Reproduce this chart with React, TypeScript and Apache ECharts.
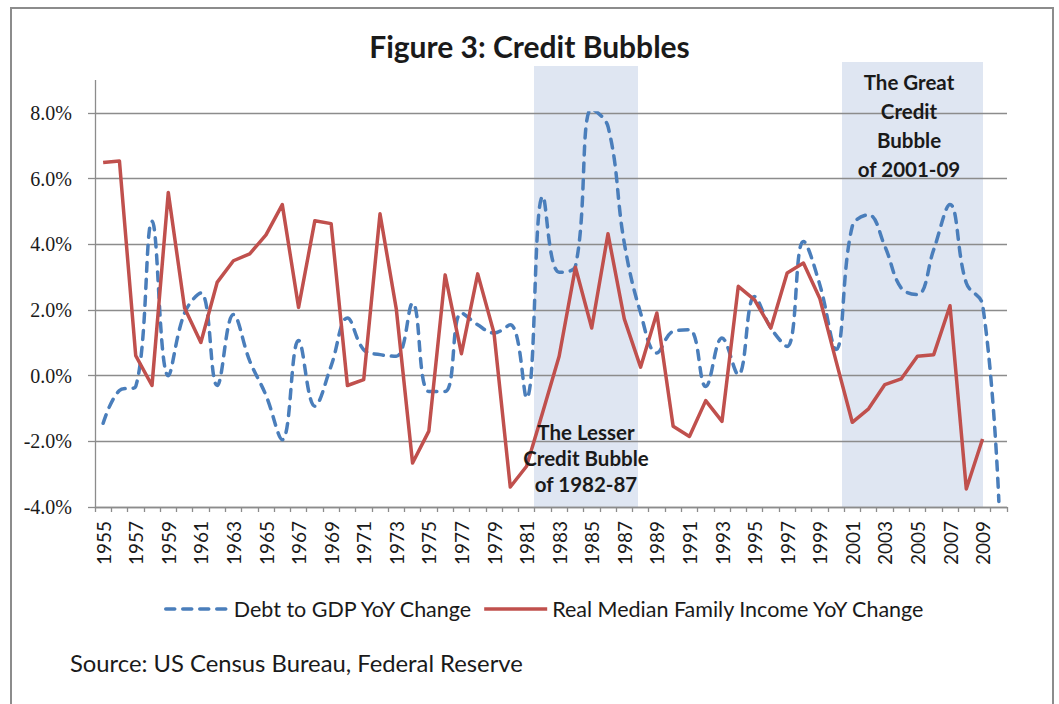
import React, { useEffect, useRef } from "react";
import * as echarts from "echarts";

const years = [
  "1955", "1956", "1957", "1958", "1959", "1960", "1961", "1962", "1963", "1964",
  "1965", "1966", "1967", "1968", "1969", "1970", "1971", "1972", "1973", "1974",
  "1975", "1976", "1977", "1978", "1979", "1980", "1981", "1982", "1983", "1984",
  "1985", "1986", "1987", "1988", "1989", "1990", "1991", "1992", "1993", "1994",
  "1995", "1996", "1997", "1998", "1999", "2000", "2001", "2002", "2003", "2004",
  "2005", "2006", "2007", "2008", "2009", "2010",
];

// Debt to GDP YoY change (%)
const debtToGdp = [
  -1.45, -0.45, -0.33, 4.7, 0.0, 1.91, 2.52, -0.3, 1.86, 0.45,
  -0.6, -1.95, 1.07, -0.93, 0.3, 1.76, 0.79, 0.64, 0.59, 2.21,
  -0.48, -0.48, 1.91, 1.55, 1.3, 1.55, -0.68, 5.46, 3.15, 3.33,
  8.12, 7.59, 4.04, 1.91, 0.69, 1.35, 1.4, -0.33, 1.15, 0.03,
  2.41, 1.45, 0.89, 4.09, 2.78, 0.8, 4.55, 4.9, 3.94, 2.67,
  2.47, 3.84, 5.21, 2.82, 2.16, -3.83,
];

// Real median family income YoY change (%)
const realIncome = [
  6.49, 6.54, 0.61, -0.3, 5.58, 2.06, 1.01, 2.84, 3.5, 3.71,
  4.29, 5.21, 2.08, 4.72, 4.63, -0.3, -0.12, 4.93, 2.03, -2.66,
  -1.69, 3.07, 0.67, 3.1, 1.3, -3.39, -2.76, -1.1, 0.59, 3.3,
  1.45, 4.32, 1.73, 0.26, 1.91, -1.54, -1.85, -0.76, -1.39, 2.72,
  2.31, 1.45, 3.13, 3.43, 2.36, 0.45, -1.42, -1.01, -0.27, -0.1,
  0.59, 0.64, 2.13, -3.45, -1.93, null,
];

const seriesNames = ["Debt to GDP YoY Change", "Real Median Family Income YoY Change"];
const yMin = -4;
const yMax = 8;
const yStep = 2;

const TXT = "#1a1a1a";
const GRID = "#8c8c8c";

export default function App() {
  const ref = useRef<HTMLDivElement>(null);

  useEffect(() => {
    document.body.style.margin = "0";
    const chart = echarts.init(ref.current!, undefined, { renderer: "svg" });
    chart.setOption({
      animation: false,
      backgroundColor: "#ffffff",
      title: {
        text: "Figure 3: Credit Bubbles",
        left: "center",
        top: 26,
        textStyle: { fontFamily: "Lato", fontSize: 30, fontWeight: "bold", color: TXT },
      },
      grid: { left: 95, right: 52, top: 113, bottom: 197, containLabel: false },
      legend: {
        left: 159,
        top: 593,
        itemWidth: 63,
        itemHeight: 14,
        itemGap: 9,
        data: seriesNames,
        itemStyle: { opacity: 0 },
        lineStyle: { width: 3.5 },
        textStyle: { fontFamily: "Lato", fontSize: 21.5, color: TXT },
      },
      xAxis: {
        type: "category",
        data: years,
        boundaryGap: true,
        axisLine: { onZero: false, lineStyle: { color: GRID, width: 1.3 } },
        axisTick: { show: true, interval: 0, length: 5, lineStyle: { color: GRID, width: 1.3 } },
        axisLabel: {
          interval: 1,
          rotate: 90,
          margin: 14,
          fontFamily: "Lato",
          fontSize: 19,
          color: TXT,
        },
        splitLine: { show: false },
      },
      yAxis: {
        type: "value",
        min: yMin,
        max: yMax,
        interval: yStep,
        axisLine: { show: true, lineStyle: { color: GRID, width: 1.3 } },
        axisTick: { show: true, length: 7, lineStyle: { color: GRID, width: 1.3 } },
        axisLabel: {
          formatter: (v: number) => v.toFixed(1) + "%",
          fontFamily: "Liberation Serif",
          fontSize: 20,
          color: TXT,
          margin: 23,
        },
        splitLine: { show: true, lineStyle: { color: GRID, width: 1.3 } },
      },
      series: [
        {
          name: seriesNames[0],
          type: "line",
          data: debtToGdp,
          symbol: "none",
          smooth: 0.4,
          z: 3,
          lineStyle: { color: "#4a7ebb", width: 3.5, type: [9, 8], cap: "round" },
          itemStyle: { color: "#4a7ebb" },
        },
        {
          name: seriesNames[1],
          type: "line",
          data: realIncome,
          symbol: "none",
          smooth: false,
          z: 4,
          lineStyle: { color: "#c0504d", width: 3.5, join: "round" },
          itemStyle: { color: "#c0504d" },
        },
      ],
      graphic: [
        {
          type: "rect",
          z: -10,
          silent: true,
          shape: { x: 534, y: 66, width: 104, height: 441 },
          style: { fill: "#dfe6f2" },
        },
        {
          type: "rect",
          z: -10,
          silent: true,
          shape: { x: 842, y: 62, width: 141, height: 445 },
          style: { fill: "#dfe6f2" },
        },
        {
          type: "line",
          z: 1,
          silent: true,
          shape: { x1: 95.5, y1: 80, x2: 95.5, y2: 113 },
          style: { stroke: GRID, lineWidth: 1.3 },
        },
        {
          type: "text",
          z: 10,
          x: 586,
          y: 419,
          style: {
            text: "The Lesser\nCredit Bubble\nof 1982-87",
            font: "bold 20.5px Lato",
            fill: TXT,
            align: "center",
            verticalAlign: "top",
            lineHeight: 26,
          },
        },
        {
          type: "text",
          z: 10,
          x: 909,
          y: 67,
          style: {
            text: "The Great\nCredit\nBubble\nof 2001-09",
            font: "bold 20.5px Lato",
            fill: TXT,
            align: "center",
            verticalAlign: "top",
            lineHeight: 29,
          },
        },
        {
          type: "text",
          z: 10,
          x: 70,
          y: 663,
          style: {
            text: "Source: US Census Bureau, Federal Reserve",
            font: "23.8px Lato",
            fill: TXT,
            align: "left",
            verticalAlign: "middle",
          },
        },
        {
          type: "rect",
          z: 20,
          silent: true,
          shape: { x: 11, y: 8, width: 1042, height: 720 },
          style: { fill: "none", stroke: GRID, lineWidth: 2 },
        },
      ],
    });
    return () => chart.dispose();
  }, []);

  return (
    <div
      ref={ref}
      style={{ position: "absolute", left: 0, top: 0, width: 1059, height: 704 }}
    />
  );
}
